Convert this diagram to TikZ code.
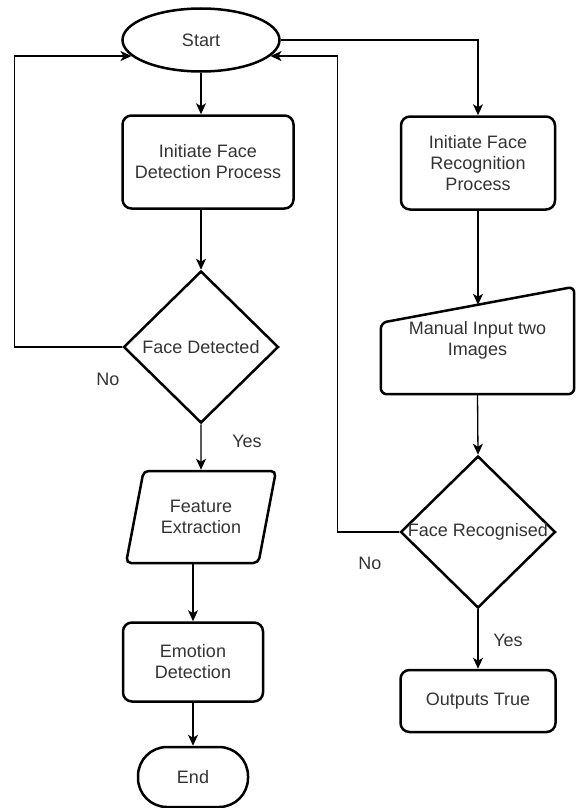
\documentclass[tikz,border=0pt]{standalone}
\usepackage{fontspec}
\setmainfont{Liberation Sans}
\usetikzlibrary{shapes.geometric,arrows.meta,calc}

\begin{document}
\begin{tikzpicture}[x=1pt,y=-1pt,
  every node/.style={font=\fontsize{18}{21}\selectfont,text=black!80},
  block/.style={draw,line width=2.5pt,rounded corners=9pt,align=center,inner sep=0pt},
  term/.style={ellipse,draw,line width=2.5pt,inner sep=0pt},
  decision/.style={diamond,draw,line width=2.5pt,inner sep=0pt,minimum width=155pt,minimum height=152pt},
  io/.style={trapezium,trapezium left angle=70,trapezium right angle=110,trapezium stretches=true,draw,line width=2.5pt,rounded corners=5pt,align=center,inner sep=0pt,minimum width=150pt,minimum height=92pt},
  arr/.style={line width=1.3pt,-{Stealth[length=11pt,width=10pt,inset=3pt]}}]
  \useasboundingbox (0,0) rectangle (577,808);
  \node [term,minimum width=157pt,minimum height=63pt] (st) at (201,40) {Start};
  \node [block,minimum width=171pt,minimum height=93pt] (fd) at (208,162) {Initiate Face\\Detection Process};
  \node [block,minimum width=154pt,minimum height=93pt] (fr) at (478,163) {Initiate Face\\Recognition\\Process};
  \node [decision] (dd) at (201,347) {\makebox[0pt]{Face Detected}};
  \node [io] (fe) at (201,517) {Feature\\Extraction};
  \node [block,minimum width=140pt,minimum height=79pt] (ed) at (193,662) {Emotion\\Detection};
  \node [block,rounded corners=29pt,minimum width=110pt,minimum height=60pt] (en) at (193,777) {End};
  \node [align=center,inner sep=0pt,minimum width=193pt,minimum height=107pt] (mi) at (477.5,340.5) {Manual Input two\\Images};
  \draw [line width=2.5pt,rounded corners=6pt] (mi.south west) -- (mi.south east) -- (mi.north east) -- ([yshift=-36pt]mi.north west) -- cycle;
  \coordinate (mt) at ($([yshift=-36pt]mi.north west)!0.5!(mi.north east)$);
  \node [decision] (dr) at (478,532) {\makebox[0pt]{Face Recognised}};
  \node [block,minimum width=155pt,minimum height=62pt] (ot) at (478,701) {Outputs True};

  \node (n1) at (108,379) {No};
  \node (y1) at (247,441) {Yes};
  \node (n2) at (370,563) {No};
  \node (y2) at (508,640) {Yes};

  \draw [arr] (st) -- (st |- fd.north);
  \draw [arr] (st) -| (fr);
  \draw [arr] (fd.south -| dd) -- (dd.north);
  \draw [arr] (dd.west) -- ++(-108,0) |- (st.193);
  \draw [arr] (dd.south) -- (fe.north);
  \draw [arr] (fe.south -| ed.north) -- (ed.north);
  \draw [arr] (ed.south) -- (en.north);
  \draw [arr] (fr.south) -- (fr.south |- mt);
  \draw [arr] (mi.south) -- (dr.north);
  \draw [arr] (dr.west) -- ++(-62,0) |- (st.347);
  \draw [arr] (dr.south) -- (ot.north);
\end{tikzpicture}
\end{document}
